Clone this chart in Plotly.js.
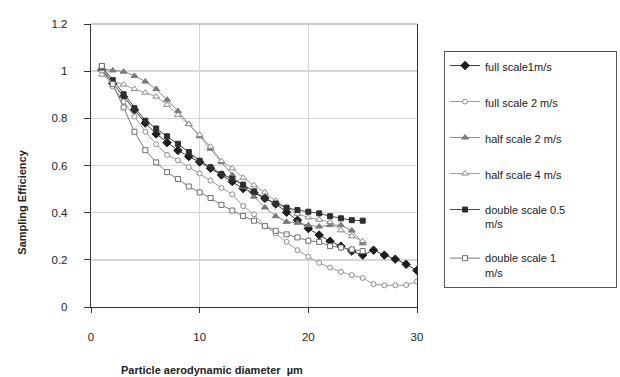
<!DOCTYPE html>
<html>
<head>
<meta charset="utf-8">
<script src="https://cdn.plot.ly/plotly-3.0.1.min.js"></script>
<style>html,body{margin:0;padding:0;background:#fff;}#chart{width:620px;height:377px;}</style>
</head>
<body>
<div id="chart"></div>
<script>
// Particle aerodynamic diameter (µm)
const diam30 = [1,2,3,4,5,6,7,8,9,10,11,12,13,14,15,16,17,18,19,20,21,22,23,24,25,26,27,28,29,30];
const diam25 = [1,2,3,4,5,6,7,8,9,10,11,12,13,14,15,16,17,18,19,20,21,22,23,24,25];

const PAD = "\u00a0".repeat(15);
const seriesNames = ["full scale1m/s", "full scale 2 m/s", "half scale 2 m/s", "half scale 4 m/s", "double scale 0.5" + PAD + "<br>m/s", "double scale 1<br>m/s"];

const fullScale1 = [1.005,0.948,0.892,0.836,0.780,0.734,0.697,0.664,0.638,0.615,0.588,0.560,0.532,0.502,0.484,0.461,0.437,0.402,0.368,0.333,0.305,0.279,0.258,0.237,0.220,0.241,0.220,0.203,0.181,0.155];
const fullScale2 = [1.000,0.935,0.871,0.808,0.743,0.690,0.645,0.622,0.593,0.566,0.536,0.505,0.478,0.428,0.393,0.343,0.312,0.276,0.241,0.213,0.187,0.167,0.149,0.135,0.123,0.097,0.092,0.092,0.093,0.108];
const halfScale2 = [1.010,1.003,0.998,0.980,0.956,0.924,0.879,0.831,0.776,0.724,0.671,0.614,0.560,0.510,0.468,0.422,0.385,0.361,0.357,0.347,0.341,0.347,0.347,0.324,0.270];
const halfScale4 = [0.985,0.958,0.943,0.924,0.909,0.892,0.857,0.815,0.775,0.730,0.680,0.619,0.588,0.548,0.516,0.486,0.450,0.422,0.395,0.380,0.370,0.360,0.325,0.300,0.280];
const doubleScale05 = [1.020,0.962,0.902,0.843,0.790,0.757,0.724,0.692,0.657,0.620,0.592,0.564,0.543,0.519,0.490,0.461,0.439,0.421,0.411,0.404,0.397,0.385,0.376,0.368,0.366];
const doubleScale1 = [1.022,0.945,0.846,0.743,0.665,0.613,0.572,0.543,0.511,0.486,0.462,0.433,0.409,0.386,0.366,0.343,0.323,0.308,0.295,0.281,0.276,0.258,0.252,0.244,0.237];

const xTickVals = [0,10,20,30];
const yTickVals = [0,0.2,0.4,0.6,0.8,1,1.2];

const FONT = "Liberation Sans, Arial, sans-serif";

function mk(x, y, name, symbol, fill, edge, lineColor, size) {
  return {
    x: x, y: y, name: name, type: "scatter", mode: "lines+markers",
    legendgroup: name,
    line: {color: lineColor, width: 1},
    marker: {symbol: symbol, size: size, color: fill, line: {color: edge, width: 1}}
  };
}

const traces = [
  mk(diam30, fullScale1, seriesNames[0], "diamond", "#1e1e1e", "#1e1e1e", "#3a3a3a", 6.5),
  mk(diam30, fullScale2, seriesNames[1], "circle", "#ffffff", "#8c8c8c", "#9a9a9a", 5),
  mk(diam25, halfScale2, seriesNames[2], "triangle-up", "#7a7a7a", "#7a7a7a", "#8a8a8a", 6),
  mk(diam25, halfScale4, seriesNames[3], "triangle-up", "#ffffff", "#8a8a8a", "#a0a0a0", 6),
  mk(diam25, doubleScale05, seriesNames[4], "square", "#2e2e2e", "#2e2e2e", "#444444", 5),
  mk(diam25, doubleScale1, seriesNames[5], "square", "#ffffff", "#6e6e6e", "#7a7a7a", 5)
];

const layout = {
  width: 620, height: 377,
  margin: {l: 91, r: 203, t: 24, b: 70, pad: 0, autoexpand: false},
  paper_bgcolor: "#ffffff", plot_bgcolor: "#ffffff",
  font: {family: FONT, size: 11, color: "#222"},
  showlegend: true,
  xaxis: {
    range: [0, 30], tickvals: xTickVals, ticktext: xTickVals.map(String),
    showgrid: true, gridcolor: "#d6d6d6", gridwidth: 1.5,
    showline: true, linecolor: "#333", linewidth: 1.2, mirror: false,
    ticks: "outside", ticklen: 5, tickcolor: "#333", tickwidth: 1,
    zeroline: false, ticklabelstandoff: 14, automargin: false,
    tickfont: {family: FONT, size: 11.5, color: "#222"}
  },
  yaxis: {
    range: [0, 1.2], tickvals: yTickVals, ticktext: yTickVals.map(String),
    showgrid: true, gridcolor: "#d6d6d6", gridwidth: 1.5,
    showline: true, linecolor: "#333", linewidth: 1.2, mirror: true,
    ticks: "outside", ticklen: 6, tickcolor: "#333", tickwidth: 1,
    zeroline: false, ticklabelstandoff: 14, automargin: false,
    tickfont: {family: FONT, size: 11.5, color: "#222"}
  },
  shapes: [
    {type: "line", xref: "paper", yref: "paper", x0: 0, x1: 1, y0: 1, y1: 1, line: {color: "#9a9a9a", width: 1.2}}
  ],
  legend: {
    x: 1.083, xanchor: "left", y: 0.905, yanchor: "top",
    bordercolor: "#555", borderwidth: 1, bgcolor: "#fff",
    font: {family: FONT, size: 11, color: "#222"},
    traceorder: "grouped", tracegroupgap: 17, valign: "top",
    itemwidth: 30
  },
  annotations: [
    {text: "Sampling Efficiency", xref: "paper", yref: "paper", x: -0.2126, y: 0.371,
     xanchor: "center", yanchor: "middle", textangle: -90, showarrow: false,
     font: {family: FONT, size: 11, color: "#222", weight: "bold"}},
    {text: "Particle aerodynamic diameter  µm", xref: "paper", yref: "paper", x: 0.371, y: -0.224,
     xanchor: "center", yanchor: "middle", showarrow: false,
     font: {family: FONT, size: 11, color: "#222", weight: "bold"}}
  ]
};

Plotly.newPlot("chart", traces, layout, {displayModeBar: false, staticPlot: true});
</script>
</body>
</html>
